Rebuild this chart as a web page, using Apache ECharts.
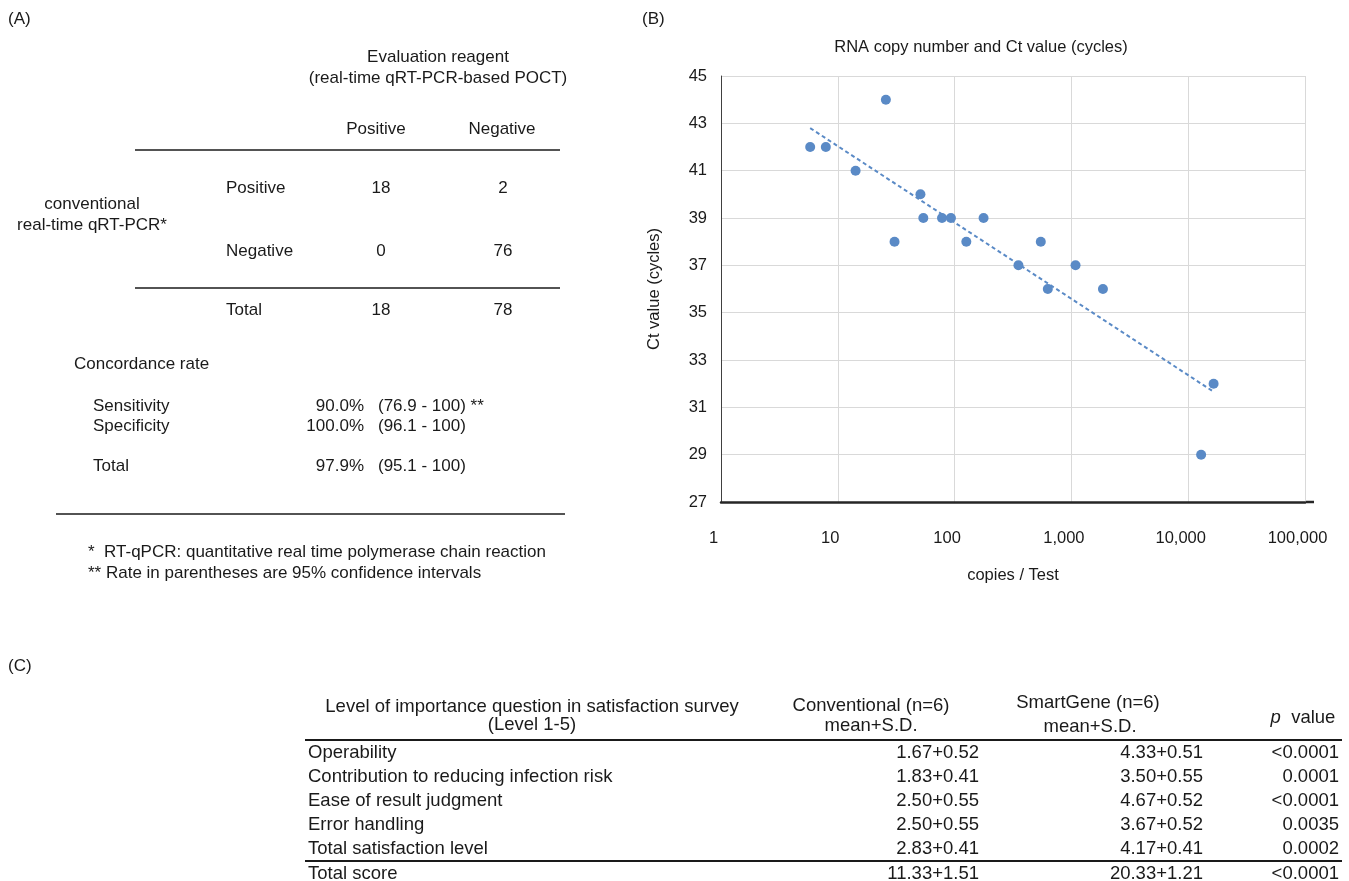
<!DOCTYPE html>
<html>
<head>
<meta charset="utf-8">
<script src="https://cdn.jsdelivr.net/npm/echarts@6/dist/echarts.min.js"></script>
<style>
html,body{margin:0;padding:0;background:#ffffff;}
#main{width:1349px;height:881px;}
</style>
</head>
<body>
<div id="main"></div>
<script>
// ---------- Panel (B) data ----------
const copies   = [5.8, 7.9, 14.2, 25.8, 51, 54, 30.6, 78, 93, 177, 126, 352, 547, 1085, 628, 1862, 16500, 12900];
const ctValues = [42, 42, 41, 44, 40, 39, 38, 39, 39, 39, 38, 37, 38, 37, 36, 36, 32, 29];
const trendCopies = [5.8, 16000];
const trendCt     = [42.8, 31.7];
const chartTitleB = 'RNA copy number and Ct value (cycles)';
const xAxisNameB  = 'copies / Test';
const yAxisNameB  = 'Ct value (cycles)';

// ---------- Panel (A) data ----------
const evalHeader  = ['Evaluation reagent', '(real-time qRT-PCR-based POCT)'];
const convHeader  = ['conventional', 'real-time qRT-PCR*'];
const evalCols    = ['Positive', 'Negative'];
const convRows    = ['Positive', 'Negative', 'Total'];
const crossTab    = [[18, 2], [0, 76], [18, 78]];
const concTitle   = 'Concordance rate';
const concLabels  = ['Sensitivity', 'Specificity', 'Total'];
const concRates   = ['90.0%', '100.0%', '97.9%'];
const concCI      = ['(76.9 - 100) **', '(96.1 - 100)', '(95.1 - 100)'];
const footnotesA  = ['*  RT-qPCR: quantitative real time polymerase chain reaction',
                     '** Rate in parentheses are 95% confidence intervals'];

// ---------- Panel (C) data ----------
const headerC1 = ['Level of importance question in satisfaction survey', '(Level 1-5)'];
const headerC2 = ['Conventional (n=6)', 'mean+S.D.'];
const headerC3 = ['SmartGene (n=6)', 'mean+S.D.'];
const surveyItems = ['Operability', 'Contribution to reducing infection risk', 'Ease of result judgment',
                     'Error handling', 'Total satisfaction level', 'Total score'];
const convScores  = ['1.67+0.52', '1.83+0.41', '2.50+0.55', '2.50+0.55', '2.83+0.41', '11.33+1.51'];
const smartScores = ['4.33+0.51', '3.50+0.55', '4.67+0.52', '3.67+0.52', '4.17+0.41', '20.33+1.21'];
const pValues     = ['<0.0001', '0.0001', '<0.0001', '0.0035', '0.0002', '<0.0001'];

// ---------- layout / style ----------
const FF = "'Liberation Sans', Arial, Helvetica, sans-serif";
const TXT = '#1a1a1a';
const BLUE = '#5a8ac6';

function t(text, x, y, size, align, extra) {
  return {
    type: 'text', x: x, y: y, silent: true,
    style: Object.assign({ text: String(text), fontSize: size, fontFamily: FF, fill: TXT,
      align: align || 'left', verticalAlign: 'middle' }, (extra || {}))
  };
}
function ln(x1, y1, x2, y2, w, c) {
  return { type: 'line', silent: true, shape: { x1: x1, y1: y1, x2: x2, y2: y2 },
           style: { stroke: c || '#1a1a1a', lineWidth: w || 1.5 } };
}

const g = [];
// Panel labels
g.push(t('(A)', 8, 19, 17));
g.push(t('(B)', 642, 19, 17));
g.push(t('(C)', 8, 666, 17));

// Panel A
const fA = 17;
g.push(t(evalHeader[0], 438, 57, fA, 'center'));
g.push(t(evalHeader[1], 438, 78, fA, 'center'));
const colX = [376, 502];
evalCols.forEach((c, i) => g.push(t(c, colX[i], 129, fA, 'center')));
g.push(ln(135, 150, 560, 150));
const rowY = [188, 251, 310];
convRows.forEach((r, i) => {
  g.push(t(r, 226, rowY[i], fA));
  crossTab[i].forEach((v, j) => g.push(t(v, j === 0 ? 381 : 503, rowY[i], fA, 'center')));
});
g.push(t(convHeader[0], 92, 204, fA, 'center'));
g.push(t(convHeader[1], 92, 225, fA, 'center'));
g.push(ln(135, 288, 560, 288));
g.push(t(concTitle, 74, 364, fA));
const concY = [406, 426, 466];
concLabels.forEach((l, i) => {
  g.push(t(l, 93, concY[i], fA));
  g.push(t(concRates[i], 364, concY[i], fA, 'right'));
  g.push(t(concCI[i], 378, concY[i], fA));
});
g.push(ln(56, 514, 565, 514));
footnotesA.forEach((f, i) => g.push(t(f, 88, 552 + i * 21, fA)));

// Panel B title and axis-line overhang
g.push(t(chartTitleB, 981, 47, 16.5, 'center'));
g.push(ln(1305, 502, 1314, 502, 2.5, '#262626'));

// Panel C
const fC = 18.5;
g.push(t(headerC1[0], 532, 707, fC, 'center'));
g.push(t(headerC1[1], 532, 725, fC, 'center'));
g.push(t(headerC2[0], 871, 706, fC, 'center'));
g.push(t(headerC2[1], 871, 726, fC, 'center'));
g.push(t(headerC3[0], 1088, 703, fC, 'center'));
g.push(t(headerC3[1], 1090, 727, fC, 'center'));
g.push({ type: 'text', x: 1303, y: 718, silent: true,
  style: { text: '{i|p}  value', fontSize: fC, fontFamily: FF, fill: TXT, align: 'center', verticalAlign: 'middle',
           rich: { i: { fontStyle: 'italic', fontSize: fC, fontFamily: FF, fill: TXT } } } });
g.push(ln(305, 740, 1342, 740, 2));
g.push(ln(305, 861, 1342, 861, 2));
const cRowY = [753, 777, 801, 825, 849, 874];
surveyItems.forEach((it, i) => {
  g.push(t(it, 308, cRowY[i], fC));
  g.push(t(convScores[i], 979, cRowY[i], fC, 'right'));
  g.push(t(smartScores[i], 1203, cRowY[i], fC, 'right'));
  g.push(t(pValues[i], 1339, cRowY[i], fC, 'right'));
});

const chart = echarts.init(document.getElementById('main'), null, { renderer: 'canvas' });
const axisFont = { fontSize: 16.5, fontFamily: FF, color: TXT };
chart.setOption({
  animation: false,
  backgroundColor: '#ffffff',
  grid: { left: 721, top: 76, width: 584, height: 426, containLabel: false },
  xAxis: {
    type: 'log', logBase: 10, min: 1, max: 100000,
    name: xAxisNameB, nameLocation: 'middle', nameGap: 65,
    nameTextStyle: axisFont,
    axisLine: { show: true, lineStyle: { color: '#262626', width: 2.5 } },
    axisTick: { show: false },
    axisLabel: Object.assign({ margin: 28, padding: [0, 15, 0, 0],
      formatter: v => Number(v).toLocaleString('en-US') }, axisFont),
    splitLine: { show: true, lineStyle: { color: '#d9d9d9', width: 1 } },
    minorTick: { show: false }, minorSplitLine: { show: false }
  },
  yAxis: {
    type: 'value', min: 27, max: 45, interval: 2,
    name: yAxisNameB, nameLocation: 'middle', nameGap: 58, nameRotate: 90,
    nameTextStyle: axisFont,
    axisLine: { show: true, lineStyle: { color: '#404040', width: 1 } },
    axisTick: { show: false },
    axisLabel: Object.assign({ margin: 14 }, axisFont),
    splitLine: { show: true, lineStyle: { color: '#d9d9d9', width: 1 } }
  },
  series: [
    {
      type: 'line', name: 'trend', z: 2,
      data: trendCopies.map((c, i) => [c, trendCt[i]]),
      symbol: 'none', silent: true,
      lineStyle: { color: BLUE, width: 2, type: [4, 3] }
    },
    {
      type: 'scatter', name: 'Ct', z: 3,
      data: copies.map((c, i) => [c, ctValues[i]]),
      symbol: 'circle', symbolSize: 10,
      itemStyle: { color: BLUE, opacity: 1 }
    }
  ],
  graphic: g
});
</script>
</body>
</html>
